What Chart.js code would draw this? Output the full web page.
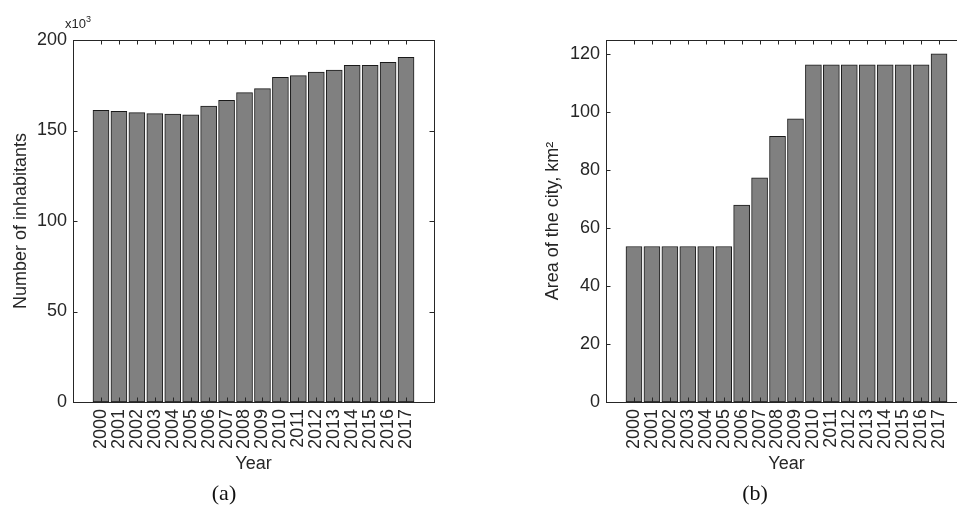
<!DOCTYPE html>
<html>
<head>
<meta charset="utf-8">
<script src="https://cdn.jsdelivr.net/npm/chart.js@4.4.0/dist/chart.umd.min.js"></script>
<style>
  html, body { margin: 0; padding: 0; background: #fff; width: 957px; height: 506px; overflow: hidden; }
  canvas { position: absolute; top: 0; }
  #chartA { left: 0; }
  #chartB { left: 480px; }
  .caption { position: absolute; top: 493px; transform: translate(-50%, -50%); line-height: 1;
             font-family: "Liberation Serif", "Times New Roman", serif; font-size: 22px; color: #111; }
  #expo { position: absolute; left: 65px; top: 17px; line-height: 1;
          font-family: "Liberation Sans", Arial, sans-serif; font-size: 13px; color: #262626; }
  #expo sup { font-size: 9px; position: relative; top: -2px; vertical-align: top; }
</style>
</head>
<body>
<canvas id="chartA" width="460" height="506"></canvas>
<canvas id="chartB" width="510" height="506"></canvas>
<div id="expo">x10<sup>3</sup></div>
<div class="caption" style="left:224px">(a)</div>
<div class="caption" style="left:755px">(b)</div>
<script>
// valeurs
const years = [2000, 2001, 2002, 2003, 2004, 2005, 2006, 2007, 2008,
               2009, 2010, 2011, 2012, 2013, 2014, 2015, 2016, 2017];
// nombre d'habitants, en milliers
const population = [161.2, 160.6, 159.9, 159.3, 159.1, 158.7, 163.5, 166.7, 170.9,
                     173.1, 179.4, 180.3, 182.3, 183.4, 186.0, 186.0, 187.7, 190.4];
// superficie de la ville, km2
const area = [53.7, 53.7, 53.7, 53.7, 53.7, 53.7, 68.0, 77.4, 91.7,
              97.8, 116.4, 116.4, 116.4, 116.4, 116.4, 116.4, 116.4, 120.2];
const popTicks = [0, 50, 100, 150, 200];
const areaTicks = [0, 20, 40, 60, 80, 100, 120];

Chart.defaults.font.family = '"Liberation Sans", Arial, sans-serif';
Chart.defaults.font.size = 18;
Chart.defaults.color = '#262626';

const AXIS = '#262626';

// ticks vers l'intérieur + cadre autour du graphique (style MATLAB)
const inwardTicks = {
  id: 'inwardTicks',
  afterDatasetsDraw(chart) {
    const { ctx, chartArea: a, scales: { x, y } } = chart;
    const L = 4.5;
    ctx.save();
    ctx.strokeStyle = AXIS;
    ctx.lineWidth = 1;
    ctx.beginPath();
    x.ticks.forEach(t => {
      const px = Math.round(x.getPixelForValue(t.value)) + 0.5;
      ctx.moveTo(px, a.bottom); ctx.lineTo(px, a.bottom - L);
      ctx.moveTo(px, a.top); ctx.lineTo(px, a.top + L);
    });
    y.ticks.forEach(t => {
      const py = Math.round(y.getPixelForValue(t.value)) + 0.5;
      ctx.moveTo(a.left, py); ctx.lineTo(a.left + L, py);
      ctx.moveTo(a.right, py); ctx.lineTo(a.right - L, py);
    });
    ctx.stroke();
    ctx.strokeRect(Math.round(a.left) + 0.5, Math.round(a.top) + 0.5,
                   Math.round(a.right - a.left), Math.round(a.bottom - a.top));
    ctx.restore();
  }
};

function makeChart(id, values, yTicks, yMax, yTitle, o) {
  const ctx = document.getElementById(id).getContext('2d');
  return new Chart(ctx, {
    type: 'bar',
    data: {
      datasets: [{
        data: years.map((yr, i) => ({ x: yr, y: values[i] })),
        backgroundColor: '#808080',
        borderColor: '#1a1a1a',
        borderWidth: 1,
        borderSkipped: false,
        barThickness: 16,
      }],
    },
    options: {
      responsive: false,
      animation: false,
      layout: { padding: { left: 0, top: o.top, right: o.right, bottom: 0 } },
      plugins: { legend: { display: false }, tooltip: { enabled: false } },
      scales: {
        x: {
          type: 'linear',
          min: 1999,
          max: 2018,
          afterBuildTicks: s => { s.ticks = years.map(v => ({ value: v })); },
          afterFit: s => { s.height = 104; },
          grid: { display: false, drawTicks: false },
          border: { display: false },
          ticks: {
            minRotation: 90, maxRotation: 90, padding: 7, autoSkip: false,
            callback: v => String(v),
          },
          title: { display: true, text: 'Year', padding: { top: 0, bottom: 31 } },
        },
        y: {
          min: 0,
          max: yMax,
          afterBuildTicks: s => { s.ticks = yTicks.map(v => ({ value: v })); },
          afterFit: s => { s.width = o.yWidth; },
          grid: { display: false, drawTicks: false },
          border: { display: false },
          ticks: { padding: 6 },
          title: { display: true, text: yTitle, padding: { top: o.titlePad, bottom: 0 } },
        },
      },
    },
    plugins: [inwardTicks],
  });
}

makeChart('chartA', population, popTicks, 200, 'Number of inhabitants',
  { top: 40, right: 26, yWidth: 73, titlePad: 10 });
makeChart('chartB', area, areaTicks, 125, 'Area of the city, km²',
  { top: 40, right: 23, yWidth: 126, titlePad: 62 });
</script>
</body>
</html>
